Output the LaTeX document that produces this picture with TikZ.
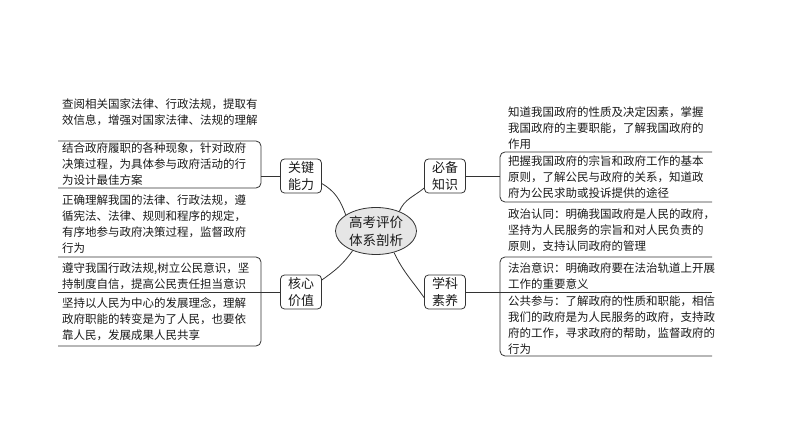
\documentclass[tikz,border=0pt]{standalone}
\usepackage{fontspec}
\usetikzlibrary{shapes.geometric}
\newfontfamily\cjk{Noto Sans CJK SC}
\definecolor{Ink}{HTML}{1A1A1A}
\definecolor{Line}{HTML}{333333}
\definecolor{Hub}{HTML}{E6E6E6}
\tikzset{cat/.style={draw=Line,line width=.8pt,rounded corners=4pt,minimum width=41pt,minimum height=34pt,inner sep=1pt,align=center,font=\cjk\fontsize{13}{17}\selectfont,text=Ink},note/.style={anchor=base west,inner sep=0pt,text width=215pt,align=left,font=\cjk\fontsize{11.5}{16}\selectfont,text=Ink},link/.style={draw=Line,line width=.8pt},brace/.style={draw=Line,line width=.8pt,rounded corners=5pt}}

\begin{document}
\begin{tikzpicture}[x=1pt,y=1pt]
\useasboundingbox (0,0) rectangle (794,447);
\node[ellipse,draw=Line,line width=.8pt,fill=Hub,minimum width=81pt,minimum height=47pt,inner sep=0pt,align=center,text=Ink,font=\cjk\fontsize{13.5}{18}\selectfont] (hub) at (376,216) {高考评价\\体系剖析};
\node[cat] (skill) at (301,271) {关键\\能力};
\node[cat] (value) at (301,155) {核心\\价值};
\node[cat] (know) at (445,271) {必备\\知识};
\node[cat] (lit) at (445,155) {学科\\素养};
\draw[link] (hub.152) to[out=110,in=-30] (skill.-20);
\draw[link] (hub.220) to[out=235,in=35] (value.30);
\draw[link] (hub.40) to[out=68,in=220] (know.210);
\draw[link] (hub.-50) to[out=-65,in=125] (lit.195);

% left side
\node[note] (skillA) at (62,338.5)
  {查阅相关国家法律、行政法规，提取有\\效信息，增强对国家法律、法规的理解};
\node[note] (skillB) at (62,294.5)
  {结合政府履职的各种现象，针对政府\\决策过程，为具体参与政府活动的行\\为设计最佳方案};
\node[note] (skillC) at (62,242.5)
  {正确理解我国的法律、行政法规，遵\\循宪法、法律、规则和程序的规定，\\有序地参与政府决策过程，监督政府\\行为};
\node[note] (valueA) at (62,174.5)
  {遵守我国行政法规,树立公民意识，坚\\持制度自信，提高公民责任担当意识};
\node[note] (valueB) at (62,139.5)
  {坚持以人民为中心的发展理念，理解\\政府职能的转变是为了人民，也要依\\靠人民，发展成果人民共享};
\draw[brace] (58,306) -- (261,306) -- (261,259) -- (58,259);
\draw[brace] (58,190) -- (261,190) -- (261,101) -- (58,101);
\coordinate (skillEnd) at (261,271);
\coordinate (valueEnd) at (58,155);
\draw[link] (skill) -- (skillEnd);
\draw[link] (value) -- (valueEnd);

% right side
\node[note] (knowA) at (508,330.5)
  {知道我国政府的性质及决定因素，掌握\\我国政府的主要职能，了解我国政府的\\作用};
\node[note] (knowB) at (508,281.5)
  {把握我国政府的宗旨和政府工作的基本\\原则，了解公民与政府的关系，知道政\\府为公民求助或投诉提供的途径};
\node[note] (litA) at (508,228.5)
  {政治认同：明确我国政府是人民的政府，\\坚持为人民服务的宗旨和对人民负责的\\原则，支持认同政府的管理};
\node[note] (litB) at (508,174.5)
  {法治意识：明确政府要在法治轨道上开展\\工作的重要意义};
\node[note] (litC) at (508,141.5)
  {公共参与：了解政府的性质和职能，相信\\我们的政府是为人民服务的政府，支持政\\府的工作，寻求政府的帮助，监督政府的\\行为};
\draw[brace] (712,295) -- (500,295) -- (500,245) -- (712,245);
\draw[brace] (712,190) -- (500,190) -- (500,91) -- (712,91);
\coordinate (knowEnd) at (500,271);
\coordinate (litEnd) at (712,155);
\draw[link] (know) -- (knowEnd);
\draw[link] (lit) -- (litEnd);
\end{tikzpicture}
\end{document}
